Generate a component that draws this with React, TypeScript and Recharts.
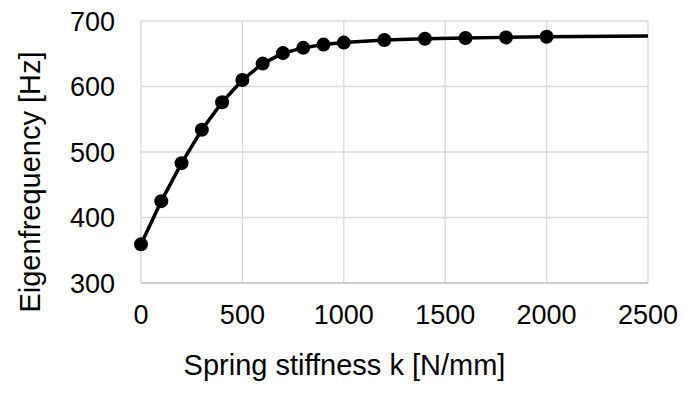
import React from 'react'
import { LineChart, Line, XAxis, YAxis, CartesianGrid, Label } from 'recharts'

// spring stiffness k [N/mm] and eigenfrequency [Hz]
const stiffness = [0, 100, 200, 300, 400, 500, 600, 700, 800, 900, 1000, 1200, 1400, 1600, 1800, 2000, 2500]
const frequency = [359, 425, 483, 534, 576, 610, 635, 651, 659, 664, 667, 671, 673, 674, 675, 676, 677]
// last point only carries the line to the right edge, no marker there
const marked = [true, true, true, true, true, true, true, true, true, true, true, true, true, true, true, true, false]

const xTicks = [0, 500, 1000, 1500, 2000, 2500]
const yTicks = [300, 400, 500, 600, 700]

const data = stiffness.map((k, i) => ({ k, f: frequency[i], marked: marked[i] }))

const FONT = '"Liberation Sans", Arial, sans-serif'

const renderDot = (props: any) => {
  const { cx, cy, index, payload } = props
  if (!payload.marked) return <g key={`dot-${index}`} />
  return <circle key={`dot-${index}`} cx={cx} cy={cy} r={7} fill="#000" stroke="none" />
}

const YTitle = (props: any) => {
  const { viewBox } = props
  const x = viewBox.x + 30
  const y = viewBox.y + viewBox.height / 2 + 30
  return (
    <text
      x={x}
      y={y}
      transform={`rotate(-90, ${x}, ${y})`}
      textAnchor="middle"
      dominantBaseline="central"
      fontFamily={FONT}
      fontSize={29}
      fill="#000"
    >
      Eigenfrequency [Hz]
    </text>
  )
}

const XTitle = (props: any) => {
  const { viewBox } = props
  const x = viewBox.x + viewBox.width / 2 - 50
  const y = viewBox.y + 82
  return (
    <text x={x} y={y} textAnchor="middle" dominantBaseline="central" fontFamily={FONT} fontSize={29} fill="#000">
      Spring stiffness k [N/mm]
    </text>
  )
}

export default function App() {
  return (
    <div style={{ position: 'absolute', left: 0, top: 0, width: 683, height: 394, background: '#fff' }}>
      <LineChart width={683} height={394} data={data} margin={{ top: 21, right: 35, left: 0, bottom: 0 }}>
        <CartesianGrid stroke="#d9d9d9" strokeWidth={1.3} />
        <XAxis
          dataKey="k"
          type="number"
          domain={[0, 2500]}
          ticks={xTicks}
          height={111}
          tickLine={false}
          axisLine={{ stroke: '#c8c8c8', strokeWidth: 1.5 }}
          tickMargin={16}
          tick={{ fill: '#000', fontSize: 27, fontFamily: FONT }}
        >
          <Label content={<XTitle />} />
        </XAxis>
        <YAxis
          type="number"
          domain={[300, 700]}
          ticks={yTicks}
          width={141}
          tickLine={false}
          axisLine={false}
          tickMargin={20}
          tick={{ fill: '#000', fontSize: 27, fontFamily: FONT }}
        >
          <Label content={<YTitle />} />
        </YAxis>
        <Line
          type="linear"
          dataKey="f"
          stroke="#000"
          strokeWidth={3.5}
          dot={renderDot}
          activeDot={false}
          isAnimationActive={false}
        />
      </LineChart>
    </div>
  )
}
